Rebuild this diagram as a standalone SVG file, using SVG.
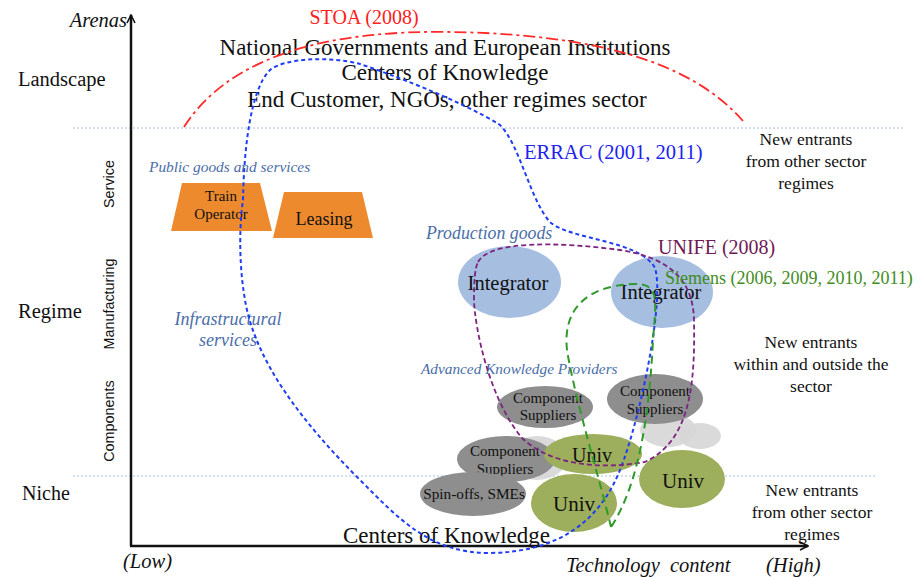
<svg xmlns="http://www.w3.org/2000/svg" width="920" height="577" viewBox="0 0 920 577">
<defs>
<style>
.s{font-family:"Liberation Serif","Times New Roman",serif;fill:#111}
.it{font-family:"Liberation Serif","Times New Roman",serif;font-style:italic;fill:#4a6ea8}
.ax{font-family:"Liberation Serif","Times New Roman",serif;font-style:italic;fill:#111;font-size:20.5px}
.rot{font-family:"Liberation Sans",Arial,sans-serif;font-size:14.4px;fill:#111}
.sep{stroke:#a9c0dc;stroke-width:1;stroke-dasharray:2,2}
.trap{fill:#ED8A2E}
.intg{fill:#A6BEDF}
.comp{fill:#8E8E8E}
.lgt{fill:#D6D6D6;opacity:0.9}
.univ{fill:#9DAF5C}
.mid{text-anchor:middle}
</style>
<marker id="arr" viewBox="0 0 10 10" refX="9" refY="5" markerWidth="10" markerHeight="10" markerUnits="userSpaceOnUse" orient="auto">
<path d="M1,1 L9,5 L1,9" fill="none" stroke="#111" stroke-width="1.6"/>
</marker>
</defs>
<rect width="920" height="577" fill="#fff"/>

<!-- separators -->
<line class="sep" x1="73" y1="128" x2="903" y2="128"/>
<line class="sep" x1="73" y1="476" x2="876" y2="476"/>

<!-- axes -->
<g id="axes" stroke="#111" stroke-width="2.5" fill="none">
<line x1="131" y1="546" x2="131" y2="15" marker-end="url(#arr)"/>
<line x1="130" y1="546" x2="808" y2="546" marker-end="url(#arr)"/>
</g>
<text class="ax" x="127" y="27" text-anchor="end">Arenas</text>
<text class="ax" x="123" y="568">(Low)</text>
<text class="ax" x="566" y="572" style="white-space:pre">Technology  content</text>
<text class="ax" x="766" y="572">(High)</text>

<!-- arena labels -->
<text class="s" x="18" y="86" font-size="20.5">Landscape</text>
<text class="s" x="18" y="318" font-size="20.5">Regime</text>
<text class="s" x="22" y="500" font-size="20">Niche</text>
<text class="rot mid" transform="translate(114,184) rotate(-90)">Service</text>
<text class="rot mid" transform="translate(114,304) rotate(-90)">Manufacturing</text>
<text class="rot mid" transform="translate(114,421) rotate(-90)">Components</text>

<!-- landscape texts -->
<g id="landscape">
<text class="s mid" x="445" y="55" font-size="23">National Governments and European Institutions</text>
<text class="s mid" x="445" y="80" font-size="23">Centers of Knowledge</text>
<text class="s mid" x="447" y="107" font-size="23">End Customer, NGOs, other regimes sector</text>
</g>

<!-- group labels -->
<text class="it" x="149" y="172" font-size="15.4">Public goods and services</text>
<text class="it" x="426" y="239" font-size="17.8">Production goods</text>
<text class="it" x="421" y="374" font-size="15.3">Advanced Knowledge Providers</text>
<text class="it mid" x="228" y="325" font-size="18">Infrastructural</text>
<text class="it mid" x="228" y="346" font-size="18">services</text>

<!-- public goods -->
<g id="train-operator">
<polygon class="trap" points="182,183 260,183 272,231 171,231"/>
<text class="s mid" x="221" y="201" font-size="15">Train</text>
<text class="s mid" x="221" y="219" font-size="15">Operator</text>
</g>
<g id="leasing">
<polygon class="trap" points="284,192 362,192 373,238 273,238"/>
<text class="s mid" x="324" y="225" font-size="18">Leasing</text>
</g>

<!-- integrators -->
<g id="integrator-1">
<ellipse class="intg" cx="509.5" cy="282" rx="51.5" ry="36"/>
<text class="s mid" x="508" y="290" font-size="20.5">Integrator</text>
</g>
<g id="integrator-2">
<ellipse class="intg" cx="662" cy="292" rx="51" ry="36"/>
<text class="s mid" x="661" y="299" font-size="20.5">Integrator</text>
</g>

<!-- knowledge providers -->
<g id="light-1"><ellipse class="lgt" cx="668" cy="430" rx="28" ry="17"/></g>
<g id="light-2"><ellipse class="lgt" cx="700" cy="436" rx="21" ry="13"/></g>
<g id="light-3"><ellipse class="lgt" cx="537" cy="458" rx="30" ry="22"/></g>
<g id="component-suppliers-1">
<ellipse class="comp" cx="545" cy="407" rx="48" ry="21"/>
<text class="s mid" x="548" y="403" font-size="15">Component</text>
<text class="s mid" x="548" y="420" font-size="15">Suppliers</text>
</g>
<g id="component-suppliers-2">
<ellipse class="comp" cx="655" cy="399" rx="48" ry="25"/>
<text class="s mid" x="655" y="396" font-size="15">Component</text>
<text class="s mid" x="655" y="414" font-size="15">Suppliers</text>
</g>
<g id="component-suppliers-3">
<ellipse class="comp" cx="506" cy="459" rx="49" ry="23"/>
<text class="s mid" x="505" y="456" font-size="15">Component</text>
<text class="s mid" x="505" y="474" font-size="15">Suppliers</text>
</g>
<g id="spin-offs">
<ellipse class="comp" cx="473" cy="494" rx="53" ry="22"/>
<text class="s mid" x="474" y="499" font-size="15.3">Spin-offs, SMEs</text>
</g>
<g id="univ-1">
<ellipse class="univ" cx="593" cy="454" rx="49" ry="20"/>
<text class="s mid" x="592" y="462" font-size="20">Univ</text>
</g>
<g id="univ-2">
<ellipse class="univ" cx="574" cy="503" rx="43" ry="29"/>
<text class="s mid" x="574" y="511" font-size="21">Univ</text>
</g>
<g id="univ-3">
<ellipse class="univ" cx="682" cy="479" rx="43" ry="29"/>
<text class="s mid" x="683" y="488" font-size="21">Univ</text>
</g>

<!-- bottom text -->
<text class="s" x="343" y="543" font-size="23">Centers of Knowledge</text>

<!-- boundaries -->
<g id="connectors" fill="none">
<path id="stoa" d="M184,127 C 230,55 330,30 450,32 C 590,34 690,60 743,121" stroke="#ff2a2a" stroke-width="1.8" stroke-dasharray="12,4,3,4"/>
<path id="errac" d="M243,200 C 244,150 250,90 270,70 C 285,58 330,56 360,64 C 390,74 460,100 500,125 C 520,145 530,200 550,222 C 570,240 640,240 655,268 C 665,300 640,420 620,470 C 600,520 560,552 490,553 C 430,553 400,520 360,480 C 300,420 255,360 245,300 C 238,260 240,220 243,200 Z" stroke="#1f3df5" stroke-width="2" stroke-dasharray="4,3"/>
<path id="unife" d="M478,262 C 490,240 560,242 620,250 C 670,258 693,280 694,320 C 695,380 692,440 645,462 C 600,470 550,465 522,438 C 490,400 475,330 474,300 C 474,280 475,268 478,262 Z" stroke="#7c2380" stroke-width="1.8" stroke-dasharray="5,3"/>
<path id="siemens" d="M611,527 C 600,480 575,400 567,350 C 562,305 592,285 635,284 C 660,284 656,300 653,340 C 650,400 642,480 611,527 Z" stroke="#2f9a2a" stroke-width="2" stroke-dasharray="8,5"/>
</g>

<!-- boundary labels -->
<text class="s mid" x="364" y="24" font-size="20" style="fill:#ff2020">STOA (2008)</text>
<text class="s" x="524" y="159" font-size="20.5" style="fill:#2222ee">ERRAC (2001, 2011)</text>
<text class="s" x="658" y="254" font-size="20" style="fill:#6e1a55">UNIFE (2008)</text>
<text class="s" x="665" y="284" font-size="18" style="fill:#3f8c22">Siemens (2006, 2009, 2010, 2011)</text>

<!-- new entrants -->
<g id="new-entrants-landscape">
<text class="s mid" x="806" y="145" font-size="17.5">New entrants</text>
<text class="s mid" x="806" y="167" font-size="17.5">from other sector</text>
<text class="s mid" x="806" y="189" font-size="17.5">regimes</text>
</g>
<g id="new-entrants-regime">
<text class="s mid" x="811" y="348" font-size="17.5">New entrants</text>
<text class="s mid" x="811" y="370" font-size="17.5">within and outside the</text>
<text class="s mid" x="811" y="392" font-size="17.5">sector</text>
</g>
<g id="new-entrants-niche">
<text class="s mid" x="812" y="496" font-size="17.5">New entrants</text>
<text class="s mid" x="812" y="518" font-size="17.5">from other sector</text>
<text class="s mid" x="812" y="540" font-size="17.5">regimes</text>
</g>
</svg>
